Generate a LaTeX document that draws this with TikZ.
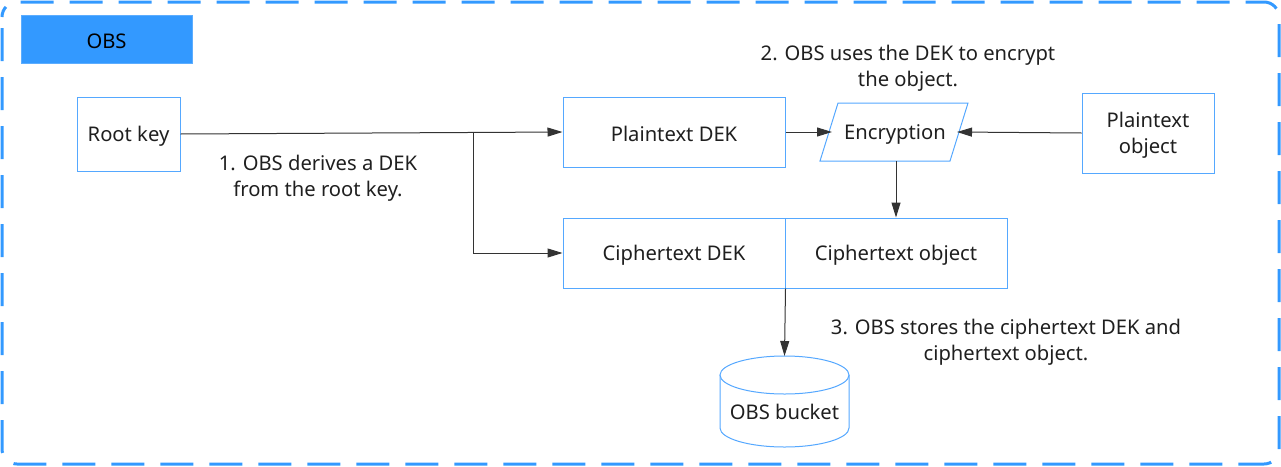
\documentclass[tikz,border=0pt]{standalone}
\usepackage{fontspec}
\setmainfont{Noto Sans}
\usetikzlibrary{arrows.meta}
\definecolor{obsblue}{HTML}{3399FF}
\definecolor{boxblue}{HTML}{55A8FF}
\definecolor{linegray}{HTML}{333333}
\definecolor{textc}{HTML}{1F1F1F}
\begin{document}
\begin{tikzpicture}[x=1pt,y=-1pt,
  txt/.style={font=\fontsize{20.2}{26}\selectfont, text=textc, align=center},
  box/.style={txt, draw=boxblue, line width=1pt, fill=white, inner sep=0pt},
  conn/.style={draw=linegray, line width=1pt, -{Triangle[length=15pt,width=9pt]}},
  shapeline/.style={draw=boxblue, line width=1pt, fill=white}]
\useasboundingbox (0,0) rectangle (1281,466);
\draw[obsblue, line width=3pt, dash pattern=on 33pt off 16pt, dash phase=-11pt, rounded corners=15pt] (2,2) rectangle (1279,464);
\node[fill=obsblue, draw=obsblue!80!white, minimum width=171pt, minimum height=48pt, inner sep=0pt] (obs) at (106.5,39) {};
\node[txt, inner sep=0pt, text=black] (obst) at (106.5,41) {OBS};

\node[box, minimum width=103pt, minimum height=74pt] (root) at (128.5,134) {};
\node[txt, inner sep=0pt] (roott) at (128.5,136) {Root key};
\node[box, minimum width=222pt, minimum height=70pt] (pdek) at (674,132) {};
\node[txt, inner sep=0pt] (pdekt) at (674,134) {Plaintext DEK};
\node[box, minimum width=132pt, minimum height=80pt] (pobj) at (1148,133) {};
\node[txt, inner sep=0pt] (pobjt) at (1148,135) {Plaintext\\object};
\node[box, minimum width=222pt, minimum height=70pt] (cdek) at (674,253) {};
\node[txt, inner sep=0pt] (cdekt) at (674,255) {Ciphertext DEK};
\node[box, minimum width=222pt, minimum height=70pt] (cobj) at (896,253) {};
\node[txt, inner sep=0pt] (cobjt) at (896,255) {Ciphertext object};

% encryption parallelogram
\draw[shapeline] (838,103) -- (968,103) -- (950,161) -- (820,161) -- cycle;
\node[txt, inner sep=0pt] (enc) at (895,134) {Encryption};
\coordinate (encL) at (832,132);
\coordinate (encR) at (957,132);
\coordinate (encB) at (896,161);

% bucket cylinder
\draw[shapeline] (720,375) -- (720,428) arc[start angle=180, end angle=360, x radius=64.5pt, y radius=19pt] -- (849,375);
\draw[shapeline] (784.5,375) ellipse[x radius=64.5pt, y radius=19pt];
\node[txt, inner sep=0pt] (bucket) at (784.5,412) {OBS bucket};
\coordinate (bucketTop) at (784.5,356);

% labels
\node[txt] (l1) at (318,178) {1. OBS derives a DEK\\from the root key.};
\node[txt] (l2) at (908,68) {2. OBS uses the DEK to encrypt\\the object.};
\node[txt] (l3) at (1006,342) {3. OBS stores the ciphertext DEK and\\ciphertext object.};

% connectors
\coordinate (br) at (473,133);
\draw[conn] (root.east) -- (pdek.west);
\draw[conn] (br) |- (cdek.west);
\draw[conn] (pdek.east) -- (encL);
\draw[conn] (pobj.west) -- (encR);
\draw[conn] (encB) -- (cobj.north);
\draw[conn] (cdek.south east) -- (bucketTop);
\end{tikzpicture}
\end{document}
